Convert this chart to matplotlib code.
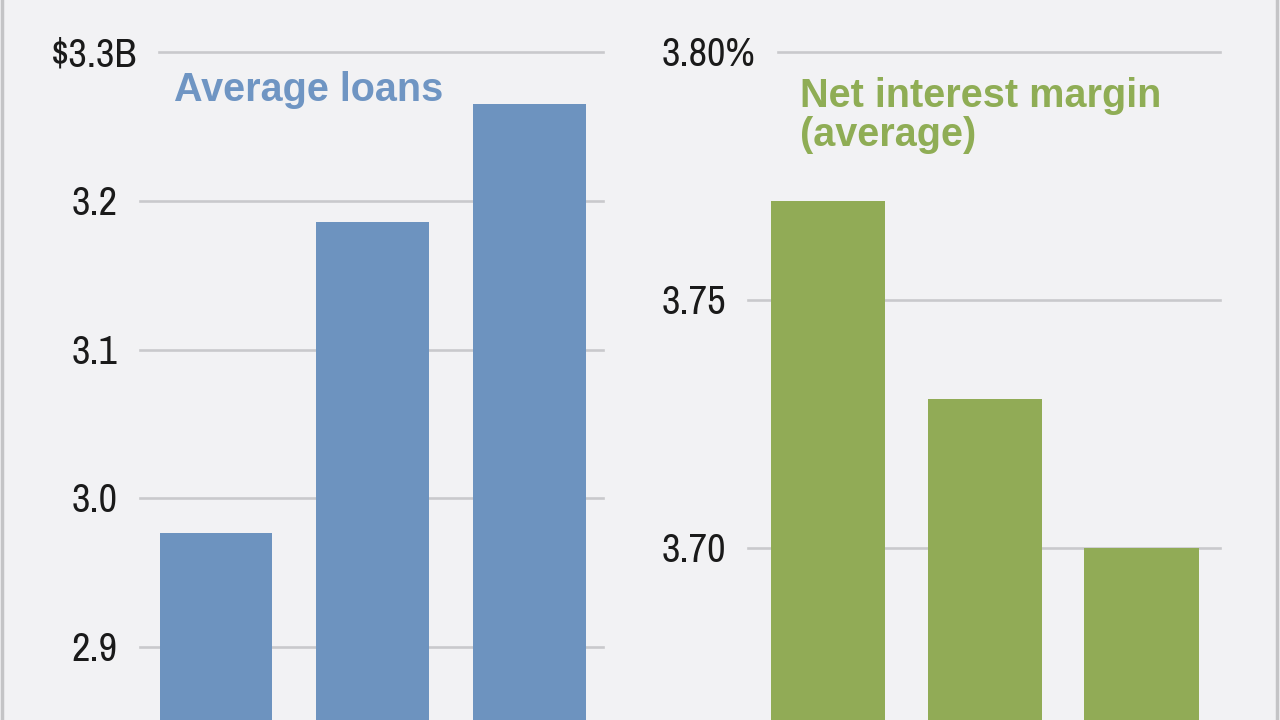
import matplotlib
matplotlib.use("Agg")
import matplotlib.pyplot as plt
import matplotlib.transforms as mtransforms
from matplotlib.lines import Line2D
from matplotlib import font_manager
from matplotlib.font_manager import FontProperties

def pick_narrow():
    fl = font_manager.fontManager.ttflist
    for key in ("Narrow", "Condensed"):
        for f in fl:
            fn = f.fname
            if key in fn and not any(b in fn for b in ("Bold", "Italic", "Oblique", "Light", "Thin", "Medium", "Black", "Semi")):
                return f.fname, key
    return None, None

nfile, nkind = pick_narrow()
TICK_SIZE = 29
tick_fp = FontProperties(fname=nfile, size=TICK_SIZE) if nfile else FontProperties(family="Liberation Sans", size=TICK_SIZE)

# Data
periods = ["Q1", "Q2", "Q3"]
loans = [2.977, 3.186, 3.265]          # $ billions
loan_ticks = [2.9, 3.0, 3.1, 3.2, 3.3]
loan_labels = ["2.9", "3.0", "3.1", "3.2", "$3.3B"]
nim = [3.770, 3.730, 3.700]            # percent
nim_ticks = [3.70, 3.75, 3.80]
nim_labels = ["3.70", "3.75", "3.80%"]

BG = "#f2f2f4"
BLUE = "#6d93bf"
GREEN = "#91ab56"
GRID = "#c9c9cc"

W, H = 1280, 720
DPI = 100
fig = plt.figure(figsize=(12.8, 7.2), dpi=DPI, facecolor=BG)


def make_panel(ax_x0, ax_x1, c0, step, ylim, ticks, labels, grid_starts, grid_end,
               lab_x, lab_ha, values, width, color):
    ax = fig.add_axes([ax_x0 / W, 0, (ax_x1 - ax_x0) / W, 1.0])
    ax.set_facecolor("none")
    for s in ax.spines.values():
        s.set_visible(False)
    ax.set_xticks([])
    ax.set_yticks([])
    ax.set_xlim((ax_x0 - c0) / step, (ax_x1 - c0) / step)
    ax.set_ylim(*ylim)
    blend = mtransforms.blended_transform_factory(fig.transFigure, ax.transData)
    shift = mtransforms.ScaledTranslation(0, -14 / DPI, fig.dpi_scale_trans)
    for t, lab, gs in zip(ticks, labels, grid_starts):
        ax.add_line(Line2D([gs / W, grid_end / W], [t, t], transform=blend,
                           color=GRID, linewidth=1.9, zorder=1))
        fig.text(lab_x / W, t, lab, transform=blend + shift, fontproperties=tick_fp,
                 color="#1a1a1a", ha=lab_ha, va="baseline")
    ax.bar(list(range(len(values))), values, width=width, color=color, zorder=3)
    return ax


axL = make_panel(130, 610, 216, 156.7, (2.851, 3.335), loan_ticks, loan_labels,
                 [140, 140, 140, 140, 159], 603, 94.5, "center",
                 loans, 0.72, BLUE)
axR = make_panel(740, 1230, 828, 156.8, (3.6653, 3.8105), nim_ticks, nim_labels,
                 [748, 748, 778], 1220, 662, "left",
                 nim, 0.73, GREEN)

title_kw = dict(fontsize=28.5, fontweight="bold", family="Liberation Sans",
                ha="left", va="baseline")
fig.text(174 / W, 1 - 101 / H, "Average loans", color="#6f95c3", **title_kw)
fig.text(800 / W, 1 - 107 / H, "Net interest margin", color="#8fad55", **title_kw)
fig.text(800 / W, 1 - 146 / H, "(average)", color="#8fad55", **title_kw)

for x in (2, 1277):
    fig.add_artist(Line2D([x / W, x / W], [0, 1], color="#c4c4c6", linewidth=2.5,
                          transform=fig.transFigure))

fig.savefig("out.png", dpi=DPI, facecolor=BG)
